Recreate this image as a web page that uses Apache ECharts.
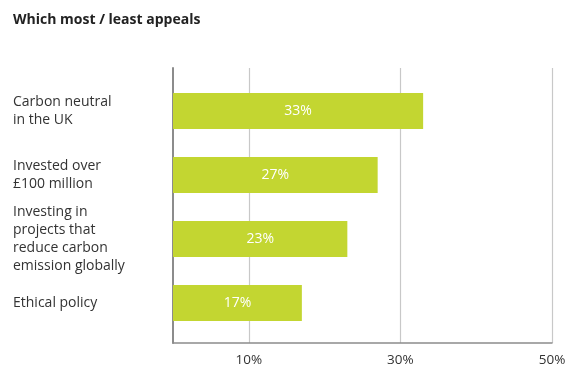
<!DOCTYPE html>
<html>
<head>
<meta charset="utf-8">
<script src="https://cdn.jsdelivr.net/npm/echarts@6/dist/echarts.min.js"></script>
<style>
  html, body { margin: 0; padding: 0; background: #fff; }
  #chart { width: 577px; height: 369px; }
</style>
</head>
<body>
<div id="chart"></div>
<script>
const categories = [
  'Carbon neutral\nin the UK',
  'Invested over\n£100 million',
  'Investing in\nprojects that\nreduce carbon\nemission globally',
  'Ethical policy'
];
const values = [33, 27, 23, 17];
const tickLabels = [10, 30, 50];

const barColor = '#c3d631';
const textColor = '#333333';
const fontFamily = '"Open Sans", "Noto Sans", sans-serif';

const chart = echarts.init(document.getElementById('chart'));

const option = {
  animation: false,
  title: {
    text: 'Which most / least appeals',
    left: 8,
    top: 8,
    textStyle: { color: '#222', fontSize: 14, fontWeight: 'bold', fontFamily }
  },
  grid: [
    // bars
    { left: 173, right: 25, top: 79, height: 256 },
    // frame: axis lines, gridlines, tick labels
    { left: 173, right: 25, top: 68, bottom: 26 }
  ],
  xAxis: [
    { gridIndex: 0, type: 'value', min: 0, max: 50, show: false },
    {
      gridIndex: 1,
      type: 'value',
      min: 0,
      max: 50,
      interval: 10,
      axisLine: { show: true, lineStyle: { color: '#8c8c8c', width: 1.5 } },
      axisTick: { show: false },
      axisLabel: {
        margin: 10,
        color: textColor,
        fontSize: 13.5,
        fontFamily,
        formatter: (v) => (tickLabels.includes(v) ? v + '%' : '')
      },
      splitLine: {
        show: true,
        // only 10 / 30 / 50 get a line
        lineStyle: { color: ['rgba(0,0,0,0)', '#c8c8c8'], width: 1.2 }
      }
    }
  ],
  yAxis: [
    {
      gridIndex: 0,
      type: 'category',
      inverse: true,
      data: categories,
      axisLine: { show: false },
      axisTick: { show: false },
      axisLabel: {
        align: 'left',
        margin: 160,
        color: textColor,
        fontSize: 14,
        lineHeight: 18,
        fontFamily
      }
    },
    {
      gridIndex: 1,
      type: 'value',
      min: 0,
      max: 1,
      axisLine: { show: true, lineStyle: { color: '#8c8c8c', width: 2 } },
      axisTick: { show: false },
      axisLabel: { show: false },
      splitLine: { show: false }
    }
  ],
  series: [
    {
      type: 'bar',
      xAxisIndex: 0,
      yAxisIndex: 0,
      data: values,
      barWidth: 36,
      itemStyle: { color: barColor },
      label: {
        show: true,
        position: 'inside',
        color: '#fff',
        fontSize: 14,
        fontFamily,
        formatter: '{c}%'
      }
    }
  ]
};

chart.setOption(option);
</script>
</body>
</html>
